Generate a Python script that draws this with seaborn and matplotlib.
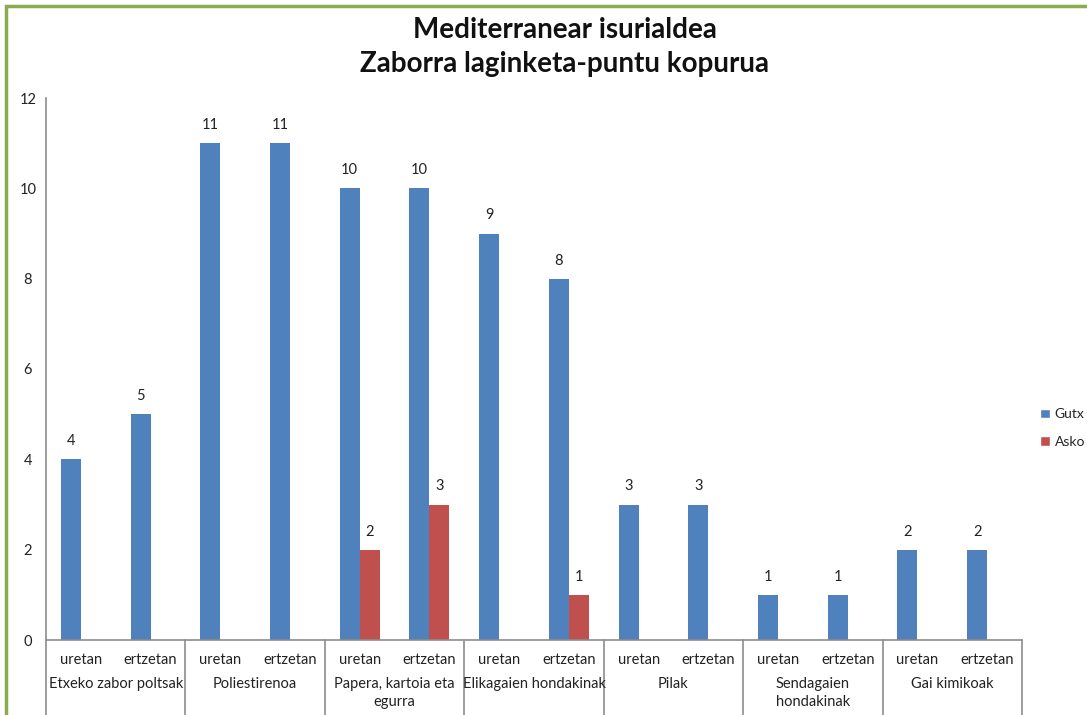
import matplotlib
matplotlib.use("Agg")
import matplotlib.pyplot as plt
import matplotlib.transforms as mtransforms
from matplotlib.patches import Rectangle, Patch
import seaborn as sns
import pandas as pd

groups = ["Etxeko zabor poltsak", "Poliestirenoa", "Papera, kartoia eta\negurra",
          "Elikagaien hondakinak", "Pilak", "Sendagaien\nhondakinak", "Gai kimikoak"]
subs = ["uretan", "ertzetan"]
series = ["Gutx", "Asko"]
gutxi = [4, 5, 11, 11, 10, 10, 9, 8, 3, 3, 1, 1, 2, 2]
asko = [0, 0, 0, 0, 2, 3, 0, 1, 0, 0, 0, 0, 0, 0]
colors = ["#4f81bd", "#c0504d"]

cats = [f"{g}|{s}" for g in groups for s in subs]
df = pd.DataFrame({
    "cat": cats * 2,
    "serie": [series[0]] * len(cats) + [series[1]] * len(cats),
    "val": gutxi + asko,
})

sns.set_theme(style="white")
plt.rcParams["font.family"] = ["Lato", "DejaVu Sans"]

fig = plt.figure(figsize=(10.87, 7.15), dpi=100)
ax = fig.add_axes([46 / 1087, 1 - 640 / 715, (1022 - 46) / 1087, (640 - 98) / 715])

sns.barplot(data=df, x="cat", y="val", hue="serie", order=cats, hue_order=series,
            palette=colors, width=0.574, gap=0, saturation=1, ax=ax, legend=False,
            errorbar=None, linewidth=0)

for cont in ax.containers:
    labels = [f"{int(b.get_height())}" if b.get_height() > 0 else "" for b in cont]
    ax.bar_label(cont, labels=labels, padding=8, fontsize=10.5, color="#222222")

ax.set_ylim(0, 12)
ax.set_xlim(-0.5, len(cats) - 0.5)
ax.set_yticks(range(0, 13, 2))
ax.tick_params(axis="y", length=0, pad=13, labelsize=10.5, labelcolor="#222222")
for lbl in ax.get_yticklabels():
    lbl.set_horizontalalignment("center")
ax.set_xticks([])
ax.set_xlabel("")
ax.set_ylabel("")
for side in ["top", "right"]:
    ax.spines[side].set_visible(False)
for side in ["left", "bottom"]:
    ax.spines[side].set_color("#8c8c8c")
    ax.spines[side].set_linewidth(1.2)

trans = mtransforms.blended_transform_factory(ax.transData, ax.transAxes)
for i, c in enumerate(cats):
    ax.text(i, -0.037, c.split("|")[1], transform=trans, ha="center", va="center",
            fontsize=10.5, color="#222222")
for gi, g in enumerate(groups):
    ax.text(gi * 2 + 0.5, -0.068, g, transform=trans, ha="center", va="top",
            fontsize=10.5, color="#222222", linespacing=1.4)
for b in range(len(groups) + 1):
    ax.plot([b * 2 - 0.5, b * 2 - 0.5], [0, -0.3], transform=trans, color="#8c8c8c",
            lw=1.2, clip_on=False)

handles = [Patch(facecolor=colors[0]), Patch(facecolor=colors[1])]
fig.legend(handles, series, loc="center left", bbox_to_anchor=(1040 / 1087, 1 - 428 / 715),
           frameon=False, fontsize=10, handlelength=0.7, handleheight=0.7,
           handletextpad=0.35, labelspacing=1.1, borderaxespad=0, borderpad=0)

fig.text(565 / 1087, 1 - 47 / 715, "Mediterranear isurialdea\nZaborra laginketa-puntu kopurua",
         ha="center", va="center", fontsize=20, fontweight="bold", color="#111111",
         linespacing=1.35)

fig.patches.append(Rectangle((6 / 1087, -0.1), 1.2, 1 - 6 / 715 + 0.1, transform=fig.transFigure,
                             fill=False, edgecolor="#8aac50", linewidth=2.5))

fig.savefig("out.png", dpi=100)
